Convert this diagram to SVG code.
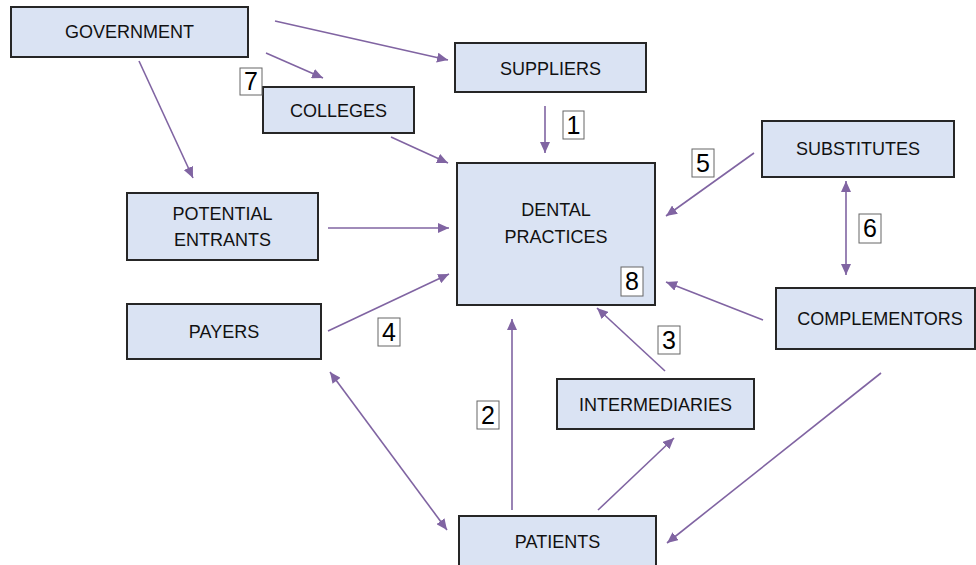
<svg xmlns="http://www.w3.org/2000/svg" width="976" height="565" viewBox="0 0 976 565">
<style>
.box{fill:#dae3f3;stroke:#262626;stroke-width:2}
.t{font-family:"Liberation Sans",Arial,sans-serif;font-size:18px;fill:#111111;text-anchor:middle}
.lb{fill:#ffffff;stroke:#666666;stroke-width:1}
.n{font-family:"Liberation Sans",Arial,sans-serif;font-size:25px;fill:#000;text-anchor:middle}
.c{stroke:#8064a2;stroke-width:1.6;fill:none;marker-end:url(#ah)}
.d{marker-start:url(#ahs)}
</style>
<defs>
<marker id="ah" markerUnits="userSpaceOnUse" markerWidth="12" markerHeight="10" refX="11" refY="5" orient="auto"><path d="M0,0 L11,5 L0,10 Z" fill="#8064a2"/></marker>
<marker id="ahs" markerUnits="userSpaceOnUse" markerWidth="12" markerHeight="10" refX="0" refY="5" orient="auto"><path d="M11,0 L0,5 L11,10 Z" fill="#8064a2"/></marker>
</defs>
<rect width="976" height="565" fill="#ffffff"/>
<g id="connectors">
<line class="c" x1="275" y1="21" x2="448" y2="60"/>
<line class="c" x1="266" y1="53" x2="323" y2="78"/>
<line class="c" x1="139" y1="61" x2="193" y2="178"/>
<line class="c" x1="391" y1="137" x2="448" y2="163"/>
<line class="c" x1="545" y1="106" x2="545" y2="153"/>
<line class="c" x1="328" y1="228" x2="449" y2="228"/>
<line class="c" x1="328" y1="331" x2="449" y2="274"/>
<line class="c" x1="754" y1="153" x2="666" y2="216"/>
<line class="c d" x1="846" y1="181" x2="846" y2="275"/>
<line class="c" x1="763" y1="320" x2="666" y2="282"/>
<line class="c" x1="665" y1="371" x2="597" y2="308"/>
<line class="c" x1="512" y1="510" x2="512" y2="319"/>
<line class="c" x1="598" y1="510" x2="674" y2="438"/>
<line class="c" x1="881" y1="373" x2="667" y2="543"/>
<line class="c d" x1="330" y1="372" x2="447" y2="530"/>
</g>
<g id="government"><rect class="box" x="11" y="7" width="237" height="50"/><text class="t" x="129.5" y="38">GOVERNMENT</text></g>
<g id="suppliers"><rect class="box" x="455" y="43" width="191" height="49"/><text class="t" x="550.5" y="75">SUPPLIERS</text></g>
<g id="colleges"><rect class="box" x="263" y="87" width="151" height="46"/><text class="t" x="338.5" y="117">COLLEGES</text></g>
<g id="dental-practices"><rect class="box" x="457" y="163" width="198" height="142"/><text class="t" x="556" y="216">DENTAL</text><text class="t" x="556" y="243">PRACTICES</text></g>
<g id="substitutes"><rect class="box" x="762" y="121" width="192" height="56"/><text class="t" x="858" y="155">SUBSTITUTES</text></g>
<g id="potential-entrants"><rect class="box" x="127" y="193" width="191" height="67"/><text class="t" x="222.5" y="220">POTENTIAL</text><text class="t" x="222.5" y="246">ENTRANTS</text></g>
<g id="payers"><rect class="box" x="127" y="304" width="194" height="55"/><text class="t" x="224" y="338">PAYERS</text></g>
<g id="complementors"><rect class="box" x="776" y="288" width="199" height="61"/><text class="t" x="880" y="325">COMPLEMENTORS</text></g>
<g id="intermediaries"><rect class="box" x="557" y="379" width="197" height="50"/><text class="t" x="655.5" y="411">INTERMEDIARIES</text></g>
<g id="patients"><rect class="box" x="459" y="516" width="197" height="54"/><text class="t" x="557.5" y="548">PATIENTS</text></g>
<g id="labels">
<rect class="lb" x="563" y="111" width="21" height="28"/><text class="n" x="573.5" y="134">1</text>
<rect class="lb" x="477" y="401" width="22" height="28"/><text class="n" x="488" y="424">2</text>
<rect class="lb" x="658" y="326" width="22" height="28"/><text class="n" x="669" y="349">3</text>
<rect class="lb" x="378" y="318" width="22" height="28"/><text class="n" x="389" y="341">4</text>
<rect class="lb" x="692" y="149" width="22" height="28"/><text class="n" x="703" y="172">5</text>
<rect class="lb" x="859" y="214" width="22" height="29"/><text class="n" x="870" y="237">6</text>
<rect class="lb" x="240" y="68" width="22" height="27"/><text class="n" x="251" y="90">7</text>
<rect class="lb" x="621" y="267" width="22" height="29"/><text class="n" x="632" y="290">8</text>
</g>
</svg>
